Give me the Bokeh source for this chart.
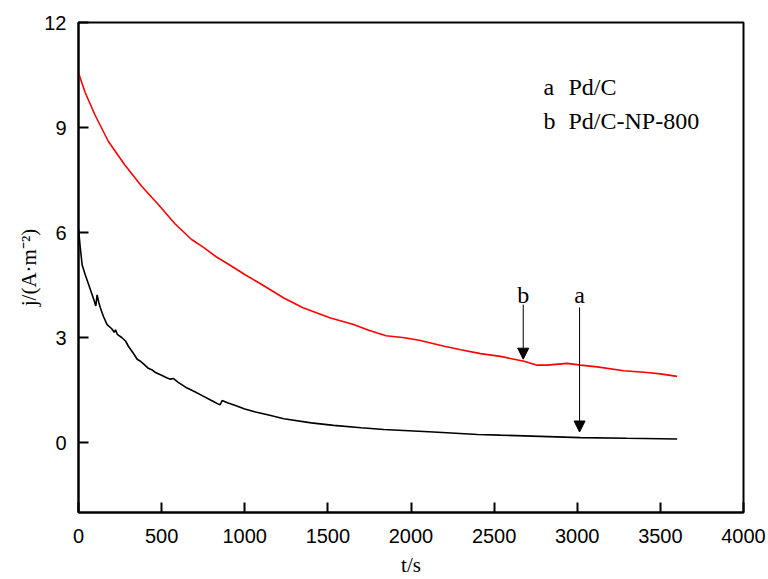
from bokeh.plotting import figure
from bokeh.models import Range1d, FixedTicker, Label, Arrow, NormalHead
from bokeh.embed import file_html
from bokeh.resources import INLINE

# ---- data ----
t_b = [0, 40, 100, 180, 280, 380, 480, 580, 680, 750, 830, 900, 1000, 1100, 1235,
       1350, 1516, 1650, 1750, 1850, 1950, 2050, 2200, 2300, 2418, 2538, 2620, 2680,
       2760, 2820, 2940, 3020, 3120, 3280, 3420, 3500, 3600]
j_b = [10.56, 10.0, 9.35, 8.6, 7.92, 7.32, 6.8, 6.25, 5.8, 5.58, 5.3, 5.1, 4.8, 4.52, 4.13,
       3.85, 3.56, 3.38, 3.2, 3.05, 3.0, 2.92, 2.75, 2.65, 2.54, 2.46, 2.38, 2.32,
       2.21, 2.21, 2.26, 2.21, 2.16, 2.05, 2.0, 1.96, 1.89]

t_a = [0, 10, 22, 40, 62, 80, 96, 104, 112, 122, 132, 150, 172, 200, 215, 223, 233, 260,
       283, 300, 330, 353, 370, 393, 420, 440, 463, 500, 530, 553, 570, 600, 644, 700,
       744, 800, 844, 852, 864, 900, 944, 1000, 1065, 1150, 1235, 1400, 1535, 1700,
       1836, 2136, 2400, 2537, 3019, 3300, 3601]
j_a = [6.1, 5.6, 5.07, 4.8, 4.5, 4.25, 4.03, 3.9, 4.22, 4.0, 3.84, 3.6, 3.37, 3.25, 3.15,
       3.22, 3.09, 3.0, 2.9, 2.75, 2.55, 2.38, 2.33, 2.24, 2.12, 2.08, 2.0, 1.92, 1.85,
       1.81, 1.83, 1.72, 1.58, 1.45, 1.34, 1.2, 1.09, 1.08, 1.2, 1.13, 1.06, 0.96, 0.87,
       0.78, 0.68, 0.56, 0.49, 0.42, 0.37, 0.30, 0.23, 0.21, 0.14, 0.12, 0.10]

x_ticks = [0, 500, 1000, 1500, 2000, 2500, 3000, 3500, 4000]
y_ticks = [0, 3, 6, 9, 12]

legend_keys = ["a", "b"]
legend_names = ["Pd/C", "Pd/C-NP-800"]
legend_y = [10.15, 9.19]
arrow_labels = ["b", "a"]
arrow_x = [2675, 3014]
arrow_top = [3.94, 3.86]
arrow_tip = [2.38, 0.30]

SERIF = "Liberation Serif"
SANS = "Liberation Sans"

p = figure(width=768, height=579, x_range=Range1d(0, 4000), y_range=Range1d(-2, 12),
           output_backend="svg", toolbar_location=None,
           min_border_left=78, min_border_right=25, min_border_top=22, min_border_bottom=63)

p.line(t_b, j_b, line_color="red", line_width=1.6)
p.line(t_a, j_a, line_color="black", line_width=1.6)

p.xgrid.visible = False
p.ygrid.visible = False
p.outline_line_color = "black"
p.outline_line_width = 2
p.outline_line_alpha = 1

for ax in (p.xaxis[0], p.yaxis[0]):
    ax.axis_line_width = 2
    ax.axis_line_color = "black"
    ax.major_tick_in = 10
    ax.major_tick_out = 0
    ax.major_tick_line_width = 2
    ax.minor_tick_line_color = None
    ax.major_label_text_font = SANS
    ax.major_label_text_font_size = "20px"
    ax.major_label_text_color = "black"
    ax.axis_label_text_font = SERIF
    ax.axis_label_text_font_size = "21px"
    ax.axis_label_text_font_style = "normal"
    ax.axis_label_text_color = "black"

p.xaxis.ticker = FixedTicker(ticks=x_ticks)
p.yaxis.ticker = FixedTicker(ticks=y_ticks)
p.xaxis.major_label_standoff = 16
p.yaxis.major_label_standoff = 12
p.xaxis.axis_label = "t/s"
p.xaxis.axis_label_standoff = 7
p.yaxis.axis_label = "j/(A·m⁻²)"
p.yaxis.axis_label_standoff = 0

# legend texts
for key, name, yb in zip(legend_keys, legend_names, legend_y):
    p.add_layout(Label(x=2797, y=yb, text=key, text_font=SERIF, text_font_size="24px",
                       text_color="black", text_align="left", text_baseline="alphabetic"))
    p.add_layout(Label(x=2947, y=yb, text=name, text_font=SERIF, text_font_size="24px",
                       text_color="black", text_align="left", text_baseline="alphabetic"))

# arrows
for lab, xa, y0, y1 in zip(arrow_labels, arrow_x, arrow_top, arrow_tip):
    p.add_layout(Arrow(end=NormalHead(size=11, fill_color="black", line_color="black"),
                       x_start=xa, y_start=y0, x_end=xa, y_end=y1,
                       line_width=1, line_color="black"))
    p.add_layout(Label(x=xa, y=4.22, text=lab, text_font=SERIF, text_font_size="24px",
                       text_color="black", text_align="center", text_baseline="alphabetic"))

open("out.html", "w").write(file_html(p, INLINE))
